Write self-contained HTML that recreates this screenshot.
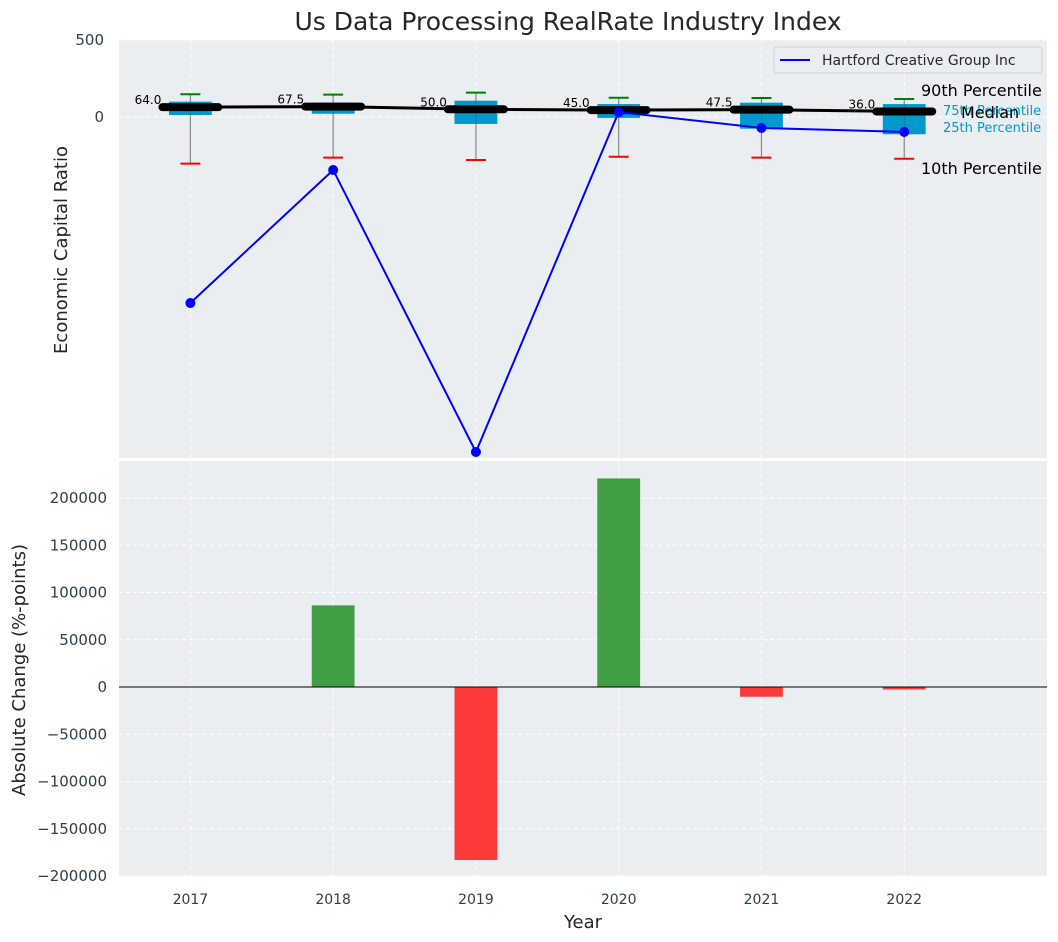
<!DOCTYPE html>
<html><head><meta charset="utf-8"><style>
body{margin:0;background:#fff;}
svg{display:block;font-family:"DejaVu Sans","Liberation Sans",sans-serif;}
</style></head><body>
<svg id="c" width="1058" height="942"></svg>
<script>
const years=["2017","2018","2019","2020","2021","2022"];
const company=[-1208,-344,-2175,32,-71,-97];
const change=[null,86400,-183100,220700,-10300,-2600];
const p90=[148,145,158,125,123,117];
const p75=[100,93,106,84,93,84];
const medians=[64,67.5,50,45,47.5,36];
const p25=[13,21,-45,-6,-76,-112];
const p10=[-303,-264,-279,-258,-264,-271];
const bottomTicks=[-200000,-150000,-100000,-50000,0,50000,100000,150000,200000];
const topTicks=[0,500];

const NS="http://www.w3.org/2000/svg";
const svg=document.getElementById('c');
function mk(t,a,p){const e=document.createElementNS(NS,t);for(const k in a)e.setAttribute(k,a[k]);(p||svg).appendChild(e);return e;}
const L=119,R=1047;
const x=i=>L+(i+0.5)/6.5*(R-L);
const yT=v=>117-v*77/500;
const yB=v=>687-v*189/200000;
const bw=0.3/6.5*(R-L);

let t=mk('text',{x:568,y:30,'text-anchor':'middle','font-size':25,fill:'#262626'});t.textContent="Us Data Processing RealRate Industry Index";


let p1=mk('rect',{x:L,y:40,width:R-L,height:418,fill:'#eaeef0'});

let p2=mk('rect',{x:L,y:461,width:R-L,height:415,fill:'#eaeef0'});


years.forEach((y,i)=>{
  mk('line',{x1:x(i),x2:x(i),y1:40,y2:458,stroke:'#fff','stroke-dasharray':'4,3','stroke-width':1});
  mk('line',{x1:x(i),x2:x(i),y1:461,y2:876,stroke:'#fff','stroke-dasharray':'4,3','stroke-width':1});
  let tl=mk('text',{x:x(i),y:904,'text-anchor':'middle','font-size':14,fill:'#2d3e50'});tl.textContent=y;
  
});
topTicks.forEach(v=>{
  mk('line',{x1:L,x2:R,y1:yT(v),y2:yT(v),stroke:'#fff','stroke-dasharray':'4,3'});
  let tl=mk('text',{x:104,y:yT(v)+5,'text-anchor':'end','font-size':15,fill:'#2d3e50'});tl.textContent=v;
  
});
bottomTicks.forEach(v=>{
  mk('line',{x1:L,x2:R,y1:yB(v),y2:yB(v),stroke:'#fff','stroke-dasharray':'4,3'});
  let tl=mk('text',{x:107,y:yB(v)+5,'text-anchor':'end','font-size':15,fill:'#2d3e50'});tl.textContent=(v<0?'\u2212'+(-v):v);
  
});

let a1=mk('text',{x:0,y:0,transform:'translate(67,250) rotate(-90)','text-anchor':'middle','font-size':18,fill:'#262626'});a1.textContent="Economic Capital Ratio";

let a2=mk('text',{x:0,y:0,transform:'translate(25,670) rotate(-90)','text-anchor':'middle','font-size':18,fill:'#262626'});a2.textContent="Absolute Change (%-points)";

let a3=mk('text',{x:583,y:928,'text-anchor':'middle','font-size':18,fill:'#262626'});a3.textContent="Year";


years.forEach((y,i)=>{
  let w=mk('line',{x1:x(i),x2:x(i),y1:yT(p90[i]),y2:yT(p10[i]),stroke:'#888','stroke-width':1.2});
  
  let b=mk('rect',{x:x(i)-bw/2,y:yT(p75[i]),width:bw,height:yT(p25[i])-yT(p75[i]),fill:'#0099cc'});
  
  mk('line',{x1:x(i),x2:x(i),y1:yT(p75[i]),y2:yT(p25[i]),stroke:'#555','stroke-width':1,opacity:0.6});
  let g=mk('line',{x1:x(i)-10,x2:x(i)+10,y1:yT(p90[i]),y2:yT(p90[i]),stroke:'green','stroke-width':2});
  
  let r=mk('line',{x1:x(i)-10,x2:x(i)+10,y1:yT(p10[i]),y2:yT(p10[i]),stroke:'red','stroke-width':2});
  
});
let mp=mk('polyline',{points:medians.map((m,i)=>x(i)+','+yT(m)).join(' '),fill:'none',stroke:'#000','stroke-width':3});

medians.forEach((m,i)=>{
  let s=mk('line',{x1:x(i)-28,x2:x(i)+28,y1:yT(m),y2:yT(m),stroke:'#000','stroke-width':8,'stroke-linecap':'round'});
  
  let tl=mk('text',{x:x(i)-29,y:yT(m)-3,'text-anchor':'end','font-size':12,fill:'#000'});tl.textContent=m.toFixed(1);
  
});
let cl=mk('polyline',{points:company.map((v,i)=>x(i)+','+yT(v)).join(' '),fill:'none',stroke:'#0000ff','stroke-width':2});

company.forEach((v,i)=>{
  let c=mk('circle',{cx:x(i),cy:yT(v),r:5,fill:'#0000ff'});
  
});
const lab=(txt,xx,yy,fs,col,n)=>{let e=mk('text',{x:xx,y:yy,'font-size':fs,fill:col});e.textContent=txt;};
lab("75th Percentile",943,115,13,'#0099cc','p75-label');
lab("25th Percentile",943,132,13,'#0099cc','p25-label');
lab("90th Percentile",921,96,16,'#000','p90-label');
lab("Median",961,118,16,'#000','median-annotation');
lab("10th Percentile",921,174,16,'#000','p10-label');

let lg=mk('g',{});
mk('rect',{x:774,y:47,width:268,height:26,rx:3,fill:'#eaeef0',stroke:'#cfd3d6'},lg);
mk('line',{x1:780,x2:810,y1:60,y2:60,stroke:'#0000ff','stroke-width':2},lg);
let lt=mk('text',{x:822,y:65,'font-size':14,fill:'#262626'},lg);lt.textContent="Hartford Creative Group Inc";


change.forEach((v,i)=>{
  if(v===null)return;
  let b=mk('rect',{x:x(i)-bw/2,y:Math.min(yB(v),yB(0)),width:bw,height:Math.abs(yB(v)-yB(0)),fill:v>=0?'#2e9631':'#ff2626',opacity:0.9});
  
});
mk('line',{x1:L,x2:R,y1:yB(0),y2:yB(0),stroke:'#000','stroke-width':1});
</script>
</body></html>
